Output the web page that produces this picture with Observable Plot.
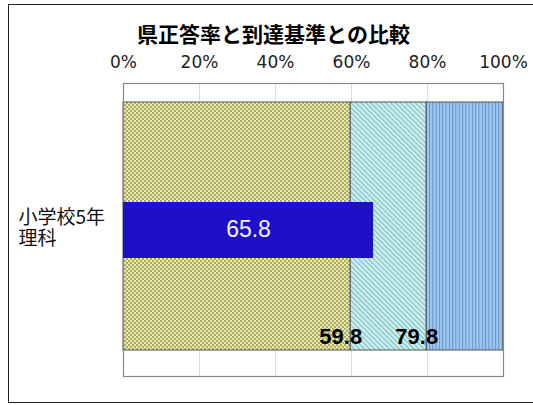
<!DOCTYPE html>
<html>
<head>
<meta charset="utf-8">
<script src="https://cdn.jsdelivr.net/npm/d3@7"></script>
<script src="https://cdn.jsdelivr.net/npm/@observablehq/plot@0.6"></script>
<style>
  html, body { margin: 0; padding: 0; background: #fff; }
  #wrap { position: relative; width: 533px; height: 405px; overflow: hidden; }
  #border { position: absolute; left: 8px; top: 4px; width: 560px; height: 397px; border: 1.5px solid #222; pointer-events: none; }
  #chart { position: absolute; left: 0; top: 0; }
</style>
</head>
<body>
<div id="wrap"><div id="chart"></div><div id="border"></div></div>
<script>
const title = "県正答率と到達基準との比較";
const categories = ["小学校5年\n理科"];
const rates = [65.8];
const segStart = [0, 59.8, 79.8];
const segEnd = [59.8, 79.8, 100];
const segLabels = ["59.8", "79.8", null];
const segPatterns = ["url(#pYellow)", "url(#pCyan)", "url(#pBlue)"];
const ticks = [0, 20, 40, 60, 80, 100];

const cat = categories[0];
const segs = segStart.map((s, i) => ({cat, x1: s, x2: segEnd[i], label: segLabels[i], fill: segPatterns[i]}));
const rateData = rates.map((v, i) => ({cat: categories[i], v}));

const jp = "'Noto Sans CJK JP', 'Noto Sans', sans-serif";
const num = "'Liberation Sans', Arial, sans-serif";

const chart = Plot.plot({
  width: 533,
  height: 405,
  marginLeft: 123,
  marginRight: 30,
  marginTop: 83,
  marginBottom: 29,
  style: {fontFamily: jp, background: "transparent"},
  x: {domain: [0, 100]},
  y: {domain: categories, padding: 0, axis: null},
  marks: [
    Plot.gridX(ticks, {stroke: "#dcdcdc", strokeOpacity: 1}),
    ...segs.map(s => Plot.barX([s], {x1: "x1", x2: "x2", y: "cat", fill: s.fill, stroke: "#555", strokeWidth: 1, insetTop: 19, insetBottom: 26})),
    Plot.frame({stroke: "#888", strokeWidth: 1.2}),
    Plot.barX(rateData, {x: "v", y: "cat", fill: "#1e10c8", insetTop: 119, insetBottom: 118}),
    Plot.text(rateData, {x: d => d.v / 2, y: "cat", text: d => d.v.toFixed(1), fill: "#f4f4ff", fontSize: 23, fontFamily: num}),
    Plot.text(segs.filter(d => d.label), {x: "x2", y: "cat", text: "label", dx: -10, dy: 107, fill: "#000", fontSize: 22, fontWeight: "bold", fontFamily: num}),
    Plot.text(categories, {x: () => 0, y: d => d, text: d => d, dx: -105, dy: -2, textAnchor: "start", fill: "#111", fontSize: 19, lineHeight: 1.12, fontFamily: jp}),
    Plot.text([title], {frameAnchor: "top", dy: -56, dx: -40, text: d => d, fontSize: 21, fontWeight: "bold", fill: "#000", fontFamily: jp}),
    Plot.axisX(ticks, {anchor: "top", tickSize: 0, tickPadding: 16, tickFormat: d => d + "%", fontSize: 17, fill: "#222", fontFamily: "'DejaVu Sans', sans-serif"})
  ]
});

const svg = d3.select(chart);
const defs = svg.insert("defs", ":first-child");
// yellow checker
const py = defs.append("pattern").attr("id", "pYellow").attr("patternUnits", "userSpaceOnUse").attr("width", 4).attr("height", 4);
py.append("rect").attr("width", 4).attr("height", 4).attr("fill", "#eeee8e");
py.append("rect").attr("width", 2).attr("height", 2).attr("fill", "#a8a888");
py.append("rect").attr("x", 2).attr("y", 2).attr("width", 2).attr("height", 2).attr("fill", "#a8a888");
// cyan diagonal
const pc = defs.append("pattern").attr("id", "pCyan").attr("patternUnits", "userSpaceOnUse").attr("width", 3.5).attr("height", 3.5).attr("patternTransform", "rotate(-45)");
pc.append("rect").attr("width", 3.5).attr("height", 3.5).attr("fill", "#c4f2f0");
pc.append("rect").attr("width", 1).attr("height", 3.5).attr("fill", "#8fb3b8");
// blue vertical
const pb = defs.append("pattern").attr("id", "pBlue").attr("patternUnits", "userSpaceOnUse").attr("width", 3.3).attr("height", 4);
pb.append("rect").attr("width", 3.3).attr("height", 4).attr("fill", "#9cc8f4");
pb.append("rect").attr("width", 1).attr("height", 4).attr("fill", "#6f90c0");

document.getElementById("chart").appendChild(chart);
</script>
</body>
</html>
